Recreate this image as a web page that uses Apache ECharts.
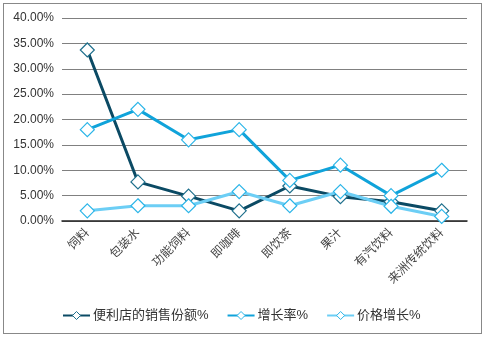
<!DOCTYPE html>
<html><head><meta charset="utf-8">
<script src="https://cdn.jsdelivr.net/npm/echarts@6/dist/echarts.min.js"></script>
<style>html,body{margin:0;padding:0;background:#fff}#c{width:487px;height:339px}
#frame{position:absolute;left:3px;top:3px;width:479px;height:331px;border:1px solid #888;box-sizing:border-box;pointer-events:none}</style>
</head><body><div id="c"></div><div id="frame"></div>
<script>
const categories = ['饲料','包装水','功能饲料','即咖啡','即饮茶','果汁','有汽饮料','来洲传统饮料'];
const seriesNames = ['便利店的销售份额%','增长率%','价格增长%'];
const shareValues = [33.7, 7.7, 4.9, 2.0, 6.9, 4.8, 3.8, 2.0];
const growthValues = [18.0, 22.0, 16.0, 18.0, 8.0, 11.0, 5.0, 10.0];
const priceValues = [2.0, 3.0, 3.0, 5.8, 3.0, 5.8, 2.9, 0.9];
const colors = ['#0B4A64','#10A3DA','#6CCEF5'];
const font = 'Arial, "Liberation Sans", "Noto Sans CJK SC", sans-serif';
const chart = echarts.init(document.getElementById('c'));
function mk(name, data, color, border){
  return {name, type:'line', data, symbol:'diamond', symbolSize:14,
    lineStyle:{color, width:3}, itemStyle:{color:'#fff', borderColor: border, borderWidth:1.2},
    emphasis:{disabled:true}};
}
const borders = ['#1E6F8C','#2BB5E8','#2BB5E8'];
chart.setOption({
  animation:false,
  color: colors,
  grid:{left:62, right:20, top:18, bottom:118},
  xAxis:{type:'category', data:categories, boundaryGap:true,
    axisLine:{lineStyle:{color:'#222', width:1.5}}, axisTick:{show:false},
    axisLabel:{rotate:45, color:'#444', fontSize:12, fontFamily:font, interval:0, margin:10}},
  yAxis:{type:'value', min:0, max:40, interval:5,
    axisLine:{show:false}, axisTick:{show:false},
    splitLine:{lineStyle:{color:'#808080', width:1}},
    axisLabel:{formatter:v=>v.toFixed(2)+'%', color:'#333', fontSize:12, fontFamily:font, margin:8}},
  legend:{bottom:12, left:57, itemGap:18, itemWidth:27, itemHeight:10,
    textStyle:{fontSize:13, color:'#333', fontFamily:font, padding:[0,0,0,-2]},
    data: seriesNames.map((n,i)=>({name:n, itemStyle:{color:'#fff', borderColor: borders[i], borderWidth:1}}))},
  series:[mk(seriesNames[0], shareValues, colors[0], borders[0]), mk(seriesNames[1], growthValues, colors[1], borders[1]), mk(seriesNames[2], priceValues, colors[2], borders[2])]
});
</script></body></html>
